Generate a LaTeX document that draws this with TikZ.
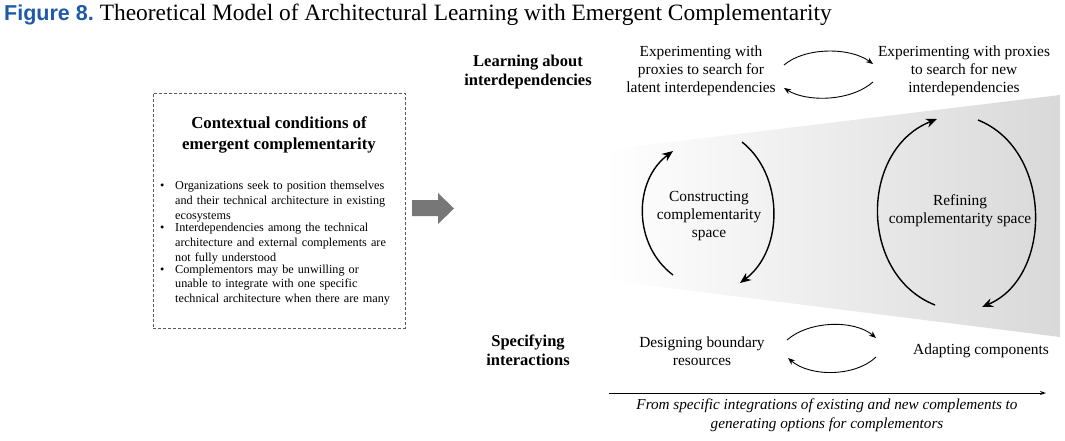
\documentclass[tikz,border=0pt]{standalone}
\usepackage{fontspec}
\setmainfont{Liberation Serif}
\newfontfamily\titlesans{Liberation Sans}
\usetikzlibrary{arrows.meta}
\definecolor{figblue}{HTML}{1F5AA6}
\definecolor{arrowgray}{HTML}{777777}
\newcommand\bitem[1]{\par\noindent\makebox[15pt][l]{\textbullet}\parbox[t]{230pt}{\raggedright #1}\par}
\tikzset{
  txt/.style={align=center, inner sep=0pt, font=\fontsize{15.4}{18}\selectfont},
  hdr/.style={align=center, inner sep=0pt, font=\fontsize{16.5}{19}\selectfont\bfseries},
  cyc/.style={line width=1.4pt, -{Stealth[length=11pt,width=9pt]}},
  small/.style={line width=0.9pt, -{Stealth[length=7pt,width=5.5pt]}},
}
\begin{document}
\begin{tikzpicture}[x=1pt,y=-1pt]
\useasboundingbox (0,0) rectangle (1065,440);
% title
\node[anchor=base west, inner sep=0pt] (title) at (4,20)
  {{\titlesans\bfseries\fontsize{21.5}{24}\selectfont\color{figblue}Figure 8.}\hspace{6pt}{\fontsize{23.4}{24}\selectfont Theoretical Model of Architectural Learning with Emergent Complementarity}};
% shaded wedge
\shade[left color=white, right color=black!15] (605,150) -- (1060,95) -- (1060,337) -- (605,280) -- cycle;
% left dashed box
\node[draw=black!65, dash pattern=on 3pt off 2pt, line width=0.9pt, minimum width=252pt, minimum height=235pt, inner sep=0pt] (box) at (279,210.5) {};
\node[align=center, inner sep=0pt, font=\fontsize{16.8}{21}\selectfont\bfseries] (boxhead) at (279,135) {Contextual conditions of\\emergent complementarity};
\node[anchor=north west, inner sep=0pt, text width=245pt, align=left, font=\fontsize{12.2}{14.75}\selectfont] (list) at (160,175)
  {\bitem{Organizations seek to position themselves\\and their technical architecture in existing\\ecosystems}%
   \bitem{Interdependencies among the technical\\architecture and external complements are\\not fully understood}%
   \bitem{Complementors may be unwilling or\\unable to integrate with one specific\\technical architecture when there are many}};
% gray arrow
\fill[arrowgray] (412,200) -- (438,200) -- (438,193) -- (454,208.5) -- (438,224) -- (438,216) -- (412,216) -- cycle;
\coordinate (garrow) at (433,208);
% row headers
\node[hdr] (learn) at (528,72) {Learning about\\interdependencies};
\node[hdr] (spec) at (528,350) {Specifying\\interactions};
% top texts
\node[txt] (expL) at (701,71) {Experimenting with\\proxies to search for\\latent interdependencies};
\node[txt] (expR) at (964,71) {Experimenting with proxies\\to search for new\\interdependencies};
% bottom texts
\node[txt] (design) at (702,351) {Designing boundary\\resources};
\node[txt] (adapt) at (981,351) {Adapting components};
% cycle texts
\node[txt] (constr) at (709,216) {Constructing\\complementarity\\space};
\node[txt] (refine) at (960,211) {Refining\\complementarity space};
% top small arcs
\coordinate (t1) at (784,65); \coordinate (t2) at (873,64);
\coordinate (t3) at (873,82); \coordinate (t4) at (784,88);
\draw[small] (t1) .. controls (805,47) and (850,47) .. (t2);
\draw[small] (t3) .. controls (850,102) and (806,102) .. (t4);
% bottom small arcs
\coordinate (b1) at (787,340); \coordinate (b2) at (876,338);
\coordinate (b3) at (876,357); \coordinate (b4) at (788,358);
\draw[small] (b1) .. controls (810,320) and (855,320) .. (b2);
\draw[small] (b3) .. controls (855,377) and (810,377) .. (b4);
% constructing cycle
\coordinate (c1) at (673,275); \coordinate (c2) at (673,151);
\coordinate (c3) at (742,142); \coordinate (c4) at (740,283);
\draw[cyc] (c1) .. controls (633,245) and (633,181) .. (c2);
\draw[cyc] (c3) .. controls (784,175) and (784,250) .. (c4);
% refining cycle
\coordinate (r1) at (935,305); \coordinate (r2) at (937,119);
\coordinate (r3) at (978,120); \coordinate (r4) at (982,307);
\draw[cyc] (r1) .. controls (859,275) and (859,150) .. (r2);
\draw[cyc] (r3) .. controls (1053,150) and (1053,277) .. (r4);
% bottom axis
\coordinate (axL) at (609,393); \coordinate (axR) at (1046,393);
\draw[line width=1pt, -{Stealth[length=6pt,width=4pt]}] (axL) -- (axR);
\node[align=center, inner sep=0pt, font=\fontsize{15.2}{19}\selectfont\itshape] (axis) at (827,415) {From specific integrations of existing and new complements to\\generating options for complementors};
\end{tikzpicture}
\end{document}
